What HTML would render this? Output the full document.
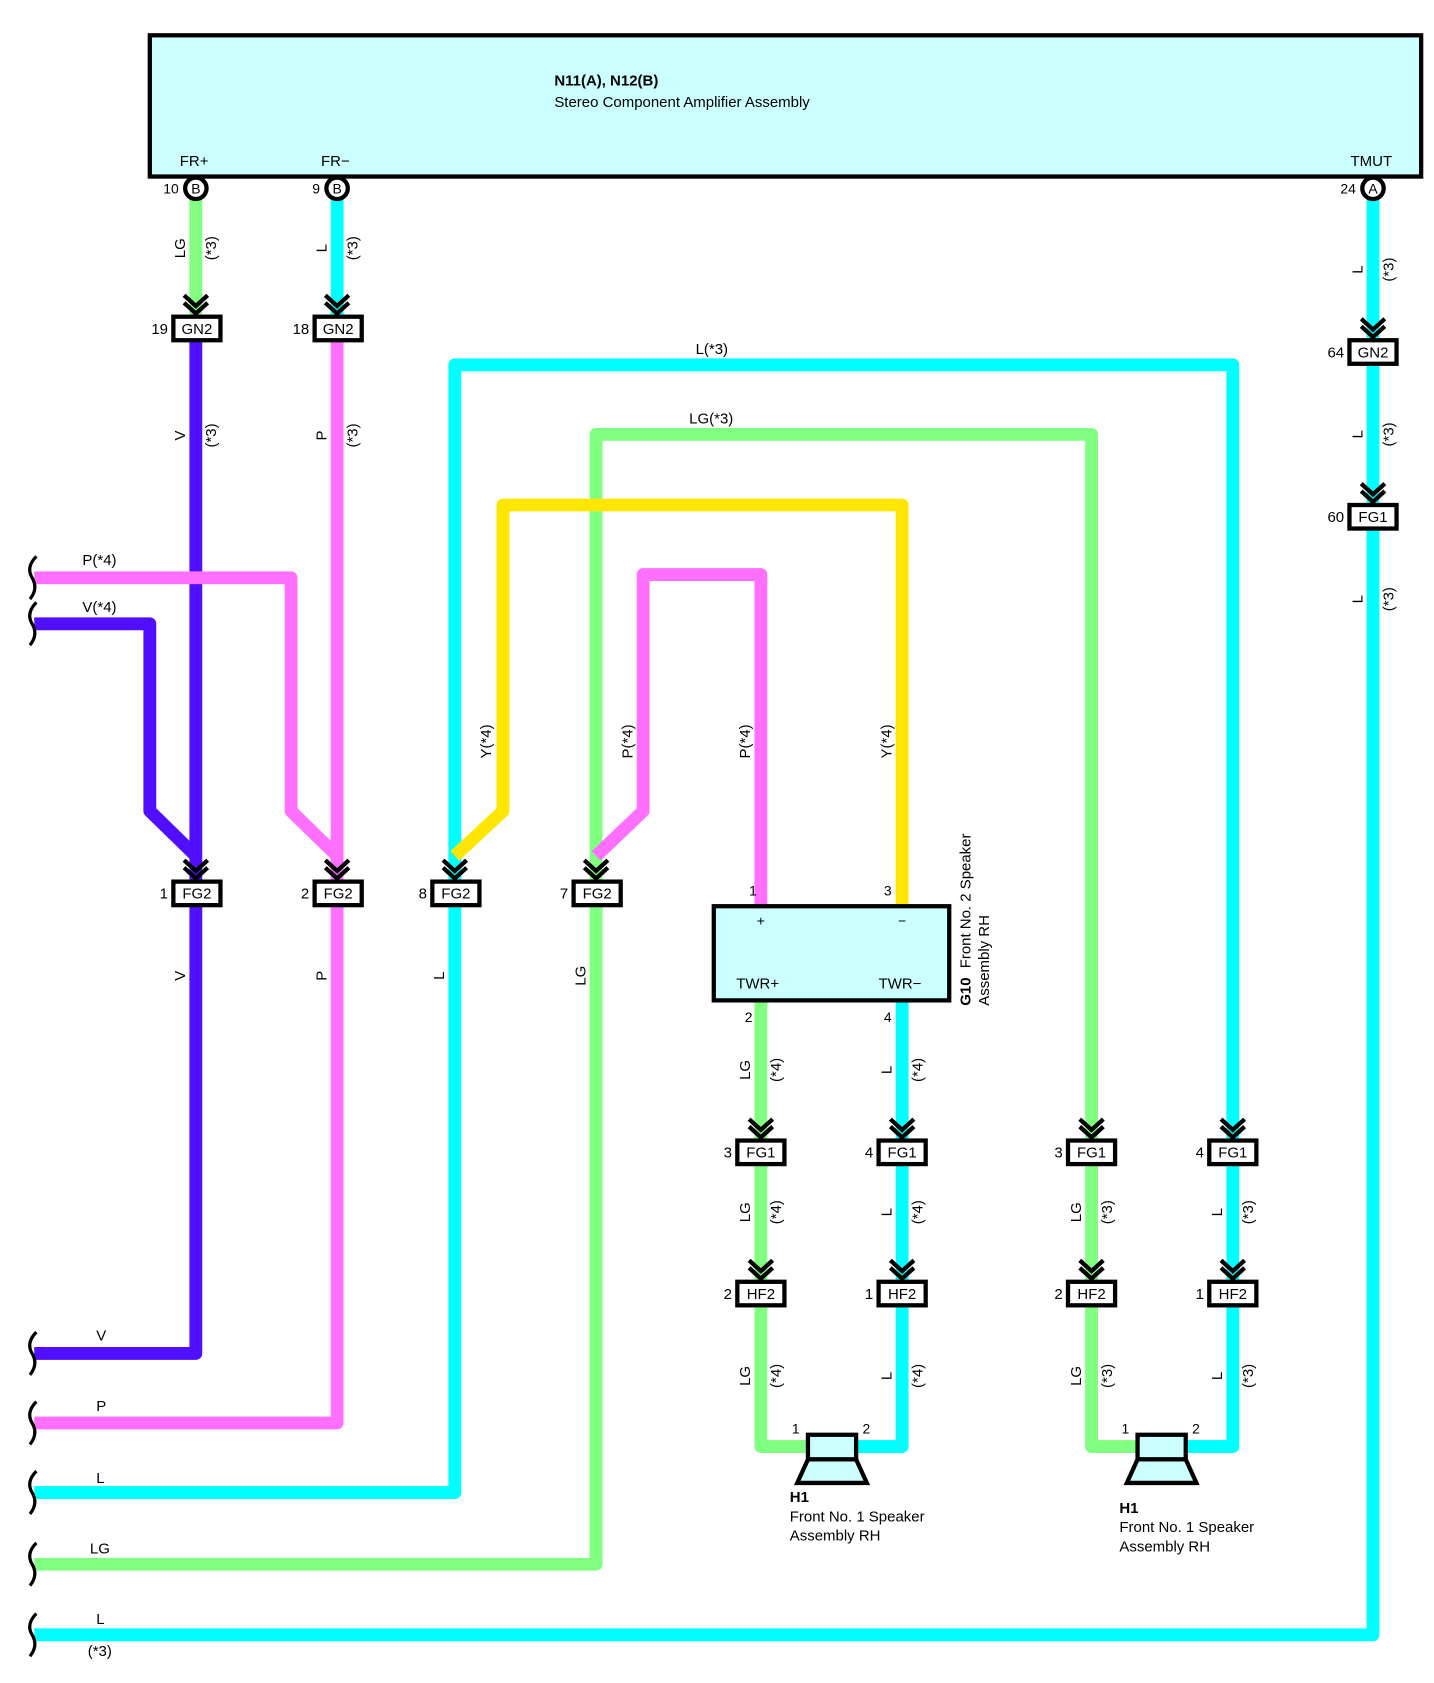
<!DOCTYPE html>
<html><head><meta charset="utf-8"><style>
html,body{margin:0;padding:0;background:#fff;}
svg{display:block;}
text{font-family:"Liberation Sans",sans-serif;font-size:14px;fill:#000;}
.s{font-size:13px;}
</style></head><body>
<svg width="1434" height="1683" viewBox="0 0 1340 1573" preserveAspectRatio="none" xmlns="http://www.w3.org/2000/svg">
<defs>
<g id="chev"><polyline points="-11,-31 0,-21 11,-31" fill="none" stroke="#000" stroke-width="4"/><polyline points="-11,-24 0,-14 11,-24" fill="none" stroke="#000" stroke-width="4"/></g>
</defs>
<!-- main box -->
<rect x="140" y="33" width="1188" height="132" fill="#ccffff" stroke="#000" stroke-width="4"/>
<text x="518" y="80" font-weight="bold">N11(A), N12(B)</text>
<text x="518" y="100">Stereo Component Amplifier Assembly</text>
<text x="168" y="155">FR+</text>
<text x="300" y="155">FR−</text>
<text x="1262" y="155">TMUT</text>

<g fill="none" stroke-linejoin="round" stroke-width="12">
<!-- FR+ -->
<path d="M183 180 V300" stroke="#80ff80"/>
<path d="M183 315 V1265 H32" stroke="#5010ff"/>
<!-- FR- -->
<path d="M315 180 V300" stroke="#00ffff"/>
<path d="M315 315 V1330 H32" stroke="#ff70ff"/>
<!-- TMUT -->
<path d="M1283 180 V1528 H32" stroke="#00ffff"/>
<!-- P(*4) external -->
<path d="M32 540 H272 V758 L315 800" stroke="#ff70ff"/>
<!-- V(*4) external -->
<path d="M32 583 H140 V758 L183 800" stroke="#5010ff"/>
<!-- L(*3) loop -->
<path d="M1152 1065 V341 H425 V1395 H32" stroke="#00ffff"/>
<!-- LG(*3) loop -->
<path d="M1020 1065 V406 H557 V1462 H32" stroke="#80ff80"/>
<!-- Y(*4) -->
<path d="M425 800 L470 758 V472 H843 V848" stroke="#ffe600"/>
<!-- P(*4) internal -->
<path d="M557 800 L601 758 V537 H711 V848" stroke="#ff70ff"/>
<!-- G10 outputs -->
<path d="M711 935 V1352 H755" stroke="#80ff80"/>
<path d="M843 935 V1352 H800" stroke="#00ffff"/>
<path d="M1020 1077 V1352 H1063" stroke="#80ff80"/>
<path d="M1152 1077 V1352 H1108" stroke="#00ffff"/>
</g>

<!-- terminal circles -->
<g stroke="#000" stroke-width="4" fill="#fff">
<circle cx="183" cy="176" r="10"/><circle cx="315" cy="176" r="10"/><circle cx="1283" cy="176" r="10"/>
</g>
<text x="183" y="181" text-anchor="middle" class="s">B</text>
<text x="315" y="181" text-anchor="middle" class="s">B</text>
<text x="1283" y="181" text-anchor="middle" class="s">A</text>
<text x="167" y="181" text-anchor="end" class="s">10</text>
<text x="299" y="181" text-anchor="end" class="s">9</text>
<text x="1267" y="181" text-anchor="end" class="s">24</text>

<!-- chevrons -->
<use href="#chev" x="183" y="307"/><use href="#chev" x="315" y="307"/>
<use href="#chev" x="1283" y="329"/><use href="#chev" x="1283" y="483"/>
<use href="#chev" x="183" y="835"/><use href="#chev" x="315" y="835"/>
<use href="#chev" x="425" y="835"/><use href="#chev" x="557" y="835"/>
<use href="#chev" x="711" y="1077"/><use href="#chev" x="843" y="1077"/>
<use href="#chev" x="1020" y="1077"/><use href="#chev" x="1152" y="1077"/>
<use href="#chev" x="711" y="1209"/><use href="#chev" x="843" y="1209"/>
<use href="#chev" x="1020" y="1209"/><use href="#chev" x="1152" y="1209"/>

<!-- connector boxes -->
<g fill="#fff" stroke="#000" stroke-width="4">
<rect x="162" y="296" width="44" height="22"/><rect x="294" y="296" width="44" height="22"/>
<rect x="1261" y="318" width="44" height="22"/><rect x="1261" y="472" width="44" height="22"/>
<rect x="162" y="824" width="44" height="22"/><rect x="294" y="824" width="44" height="22"/>
<rect x="404" y="824" width="44" height="22"/><rect x="536" y="824" width="44" height="22"/>
<rect x="689" y="1066" width="44" height="22"/><rect x="821" y="1066" width="44" height="22"/>
<rect x="998" y="1066" width="44" height="22"/><rect x="1130" y="1066" width="44" height="22"/>
<rect x="689" y="1198" width="44" height="22"/><rect x="821" y="1198" width="44" height="22"/>
<rect x="998" y="1198" width="44" height="22"/><rect x="1130" y="1198" width="44" height="22"/>
</g>
<g text-anchor="middle" class="s">
<text x="184" y="312">GN2</text><text x="316" y="312">GN2</text>
<text x="1283" y="334">GN2</text><text x="1283" y="488">FG1</text>
<text x="184" y="840">FG2</text><text x="316" y="840">FG2</text>
<text x="426" y="840">FG2</text><text x="558" y="840">FG2</text>
<text x="711" y="1082">FG1</text><text x="843" y="1082">FG1</text>
<text x="1020" y="1082">FG1</text><text x="1152" y="1082">FG1</text>
<text x="711" y="1214">HF2</text><text x="843" y="1214">HF2</text>
<text x="1020" y="1214">HF2</text><text x="1152" y="1214">HF2</text>
</g>
<g text-anchor="end" class="s">
<text x="157" y="312">19</text><text x="289" y="312">18</text>
<text x="1256" y="334">64</text><text x="1256" y="488">60</text>
<text x="157" y="840">1</text><text x="289" y="840">2</text>
<text x="399" y="840">8</text><text x="531" y="840">7</text>
<text x="684" y="1082">3</text><text x="816" y="1082">4</text>
<text x="993" y="1082">3</text><text x="1125" y="1082">4</text>
<text x="684" y="1214">2</text><text x="816" y="1214">1</text>
<text x="993" y="1214">2</text><text x="1125" y="1214">1</text>
</g>

<!-- G10 box -->
<rect x="667" y="847" width="220" height="88" fill="#ccffff" stroke="#000" stroke-width="4"/>
<text x="711" y="865" text-anchor="middle" class="s">+</text>
<text x="843" y="865" text-anchor="middle" class="s">−</text>
<text x="688" y="924">TWR+</text>
<text x="821" y="924">TWR−</text>
<text x="700" y="837" class="s">1</text><text x="826" y="837" class="s">3</text>
<text x="696" y="955" class="s">2</text><text x="826" y="955" class="s">4</text>
<g transform="translate(907,940) rotate(-90)"><text x="0" y="0" font-weight="bold">G10</text><text x="35" y="0">Front No. 2 Speaker</text><text x="0" y="17">Assembly RH</text></g>

<!-- speakers -->
<g fill="#ccffff" stroke="#000" stroke-width="4">
<rect x="755" y="1341" width="45" height="23"/><polygon points="755,1364 800,1364 810,1386 745,1386"/>
<rect x="1063" y="1341" width="45" height="23"/><polygon points="1063,1364 1108,1364 1118,1386 1053,1386"/>
</g>
<text x="740" y="1340" class="s">1</text><text x="806" y="1340" class="s">2</text>
<text x="1048" y="1340" class="s">1</text><text x="1114" y="1340" class="s">2</text>
<text x="738" y="1404" font-weight="bold">H1</text>
<text x="738" y="1422">Front No.  1 Speaker</text>
<text x="738" y="1440">Assembly RH</text>
<text x="1046" y="1414" font-weight="bold">H1</text>
<text x="1046" y="1432">Front No.  1 Speaker</text>
<text x="1046" y="1450">Assembly RH</text>

<!-- horizontal wire labels -->
<text x="650" y="331">L(*3)</text>
<text x="644" y="396">LG(*3)</text>
<text x="77" y="528">P(*4)</text>
<text x="77" y="572">V(*4)</text>
<text x="90" y="1253">V</text>
<text x="90" y="1319">P</text>
<text x="90" y="1386">L</text>
<text x="84" y="1452">LG</text>
<text x="90" y="1518">L</text>
<text x="82" y="1548">(*3)</text>

<!-- vertical wire labels -->
<g class="s" text-anchor="middle">
<text transform="translate(173,232) rotate(-90)">LG</text><text transform="translate(202,232) rotate(-90)">(*3)</text>
<text transform="translate(305,232) rotate(-90)">L</text><text transform="translate(334,232) rotate(-90)">(*3)</text>
<text transform="translate(1273,252) rotate(-90)">L</text><text transform="translate(1302,252) rotate(-90)">(*3)</text>
<text transform="translate(1273,406) rotate(-90)">L</text><text transform="translate(1302,406) rotate(-90)">(*3)</text>
<text transform="translate(1273,560) rotate(-90)">L</text><text transform="translate(1302,560) rotate(-90)">(*3)</text>
<text transform="translate(173,407) rotate(-90)">V</text><text transform="translate(202,407) rotate(-90)">(*3)</text>
<text transform="translate(305,407) rotate(-90)">P</text><text transform="translate(334,407) rotate(-90)">(*3)</text>
<text transform="translate(459,693) rotate(-90)">Y(*4)</text>
<text transform="translate(591,693) rotate(-90)">P(*4)</text>
<text transform="translate(701,693) rotate(-90)">P(*4)</text>
<text transform="translate(833,693) rotate(-90)">Y(*4)</text>
<text transform="translate(173,912) rotate(-90)">V</text>
<text transform="translate(305,912) rotate(-90)">P</text>
<text transform="translate(415,912) rotate(-90)">L</text>
<text transform="translate(547,912) rotate(-90)">LG</text>
<text transform="translate(701,1000) rotate(-90)">LG</text><text transform="translate(730,1000) rotate(-90)">(*4)</text>
<text transform="translate(833,1000) rotate(-90)">L</text><text transform="translate(862,1000) rotate(-90)">(*4)</text>
<text transform="translate(701,1133) rotate(-90)">LG</text><text transform="translate(730,1133) rotate(-90)">(*4)</text>
<text transform="translate(833,1133) rotate(-90)">L</text><text transform="translate(862,1133) rotate(-90)">(*4)</text>
<text transform="translate(1010,1133) rotate(-90)">LG</text><text transform="translate(1039,1133) rotate(-90)">(*3)</text>
<text transform="translate(1142,1133) rotate(-90)">L</text><text transform="translate(1171,1133) rotate(-90)">(*3)</text>
<text transform="translate(701,1286) rotate(-90)">LG</text><text transform="translate(730,1286) rotate(-90)">(*4)</text>
<text transform="translate(833,1286) rotate(-90)">L</text><text transform="translate(862,1286) rotate(-90)">(*4)</text>
<text transform="translate(1010,1286) rotate(-90)">LG</text><text transform="translate(1039,1286) rotate(-90)">(*3)</text>
<text transform="translate(1142,1286) rotate(-90)">L</text><text transform="translate(1171,1286) rotate(-90)">(*3)</text>
</g>

<!-- left end brackets -->
<g fill="none" stroke="#000" stroke-width="3">
<path d="M34 520 Q24 530 30 540 Q36 550 28 560"/>
<path d="M34 563 Q24 573 30 583 Q36 593 28 603"/>
<path d="M34 1245 Q24 1255 30 1265 Q36 1275 28 1285"/>
<path d="M34 1310 Q24 1320 30 1330 Q36 1340 28 1350"/>
<path d="M34 1375 Q24 1385 30 1395 Q36 1405 28 1415"/>
<path d="M34 1442 Q24 1452 30 1462 Q36 1472 28 1482"/>
<path d="M34 1508 Q24 1518 30 1528 Q36 1538 28 1548"/>
</g>
</svg>
</body></html>
